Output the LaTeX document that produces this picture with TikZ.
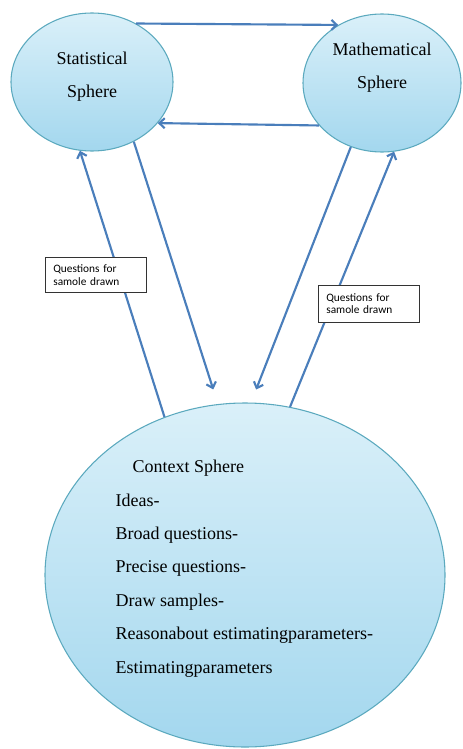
\documentclass[tikz,border=0pt]{standalone}
\usepackage{fontspec}
\setmainfont{Liberation Serif}
\newfontfamily\notefont{Carlito}
\usetikzlibrary{shapes.geometric,arrows.meta}

\definecolor{sphereline}{HTML}{5BA9BE}
\definecolor{spheretop}{HTML}{DAF0F9}
\definecolor{spherebot}{HTML}{A3D7EE}
\definecolor{linkblue}{HTML}{4A7EBB}

\tikzset{
  sphere/.style={ellipse, draw=sphereline, line width=0.8pt, top color=spheretop, bottom color=spherebot, inner sep=0pt},
  spheretext/.style={font=\fontsize{13.5}{25}\selectfont},
  link/.style={linkblue, line width=1.6pt, -{Straight Barb[length=4pt,width=7.5pt]}},
  notebox/.style={draw=black!80, line width=0.6pt, fill=white, align=left, inner xsep=6pt, inner ysep=0pt, text width=64pt, minimum height=26pt, font=\notefont\fontsize{8.5}{9.5}\selectfont}
}

\begin{document}
\begin{tikzpicture}[x=0.75pt, y=-0.75pt]
\useasboundingbox (0,0) rectangle (462,749);
% The three spheres
\node[sphere, minimum width=121.5pt, minimum height=103.5pt] (stat) at (92,82) {};
\node[sphere, minimum width=118.5pt, minimum height=103.5pt] (math) at (382,83) {};
\node[sphere, minimum width=300pt, minimum height=258pt] (ctx) at (245,575) {};
% Their names
\node[spheretext, align=center] (statname) at (92,77) {Statistical\\Sphere};
\node[spheretext, align=center] (mathname) at (382,68) {Mathematical\\Sphere};
\node[spheretext, anchor=base west] (ctxname) at (128,472) {Context Sphere};
% The steps inside the context sphere
\foreach \txt [count=\i from 0] in {Ideas-, Broad questions-, Precise questions-, Draw samples-, Reasonabout estimatingparameters-, Estimatingparameters}
  \node[spheretext, anchor=base west] (step\i) at (111,{506+33.4*\i}) {\txt};
% Links between the spheres
\draw[link] (stat.53) -- (math.127);
\draw[link] (math.214) -- (stat.-32);
\draw[link] (ctx.117) -- (stat.260);
\draw[link, shorten >=11.5pt] (stat.-55) -- (ctx.99);
\draw[link, shorten >=10.5pt] (math.244) -- (ctx.88);
\draw[link] (ctx.75) -- (math.280);
% Notes on the upward links
\node[notebox] (note1) at (96,275) {Questions for\\samole drawn};
\node[notebox, minimum height=27.75pt] (note2) at (369,303.5) {Questions for\\samole drawn};
\end{tikzpicture}
\end{document}
